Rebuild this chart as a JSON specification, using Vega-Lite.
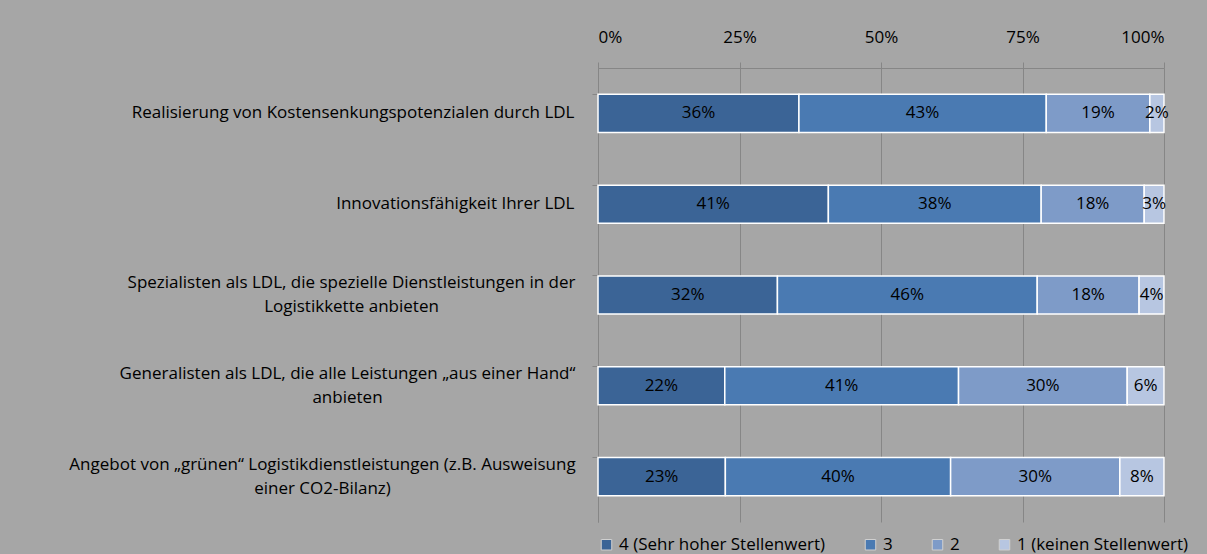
{
  "$schema": "https://vega.github.io/schema/vega-lite/v6.json",
  "width": 566,
  "height": 454,
  "autosize": {"type": "none"},
  "padding": {"left": 598, "top": 68, "right": 43, "bottom": 32},
  "background": "#A6A6A6",
  "config": {
    "view": {"stroke": null},
    "font": "Open Sans",
    "axis": {"labelFont": "Open Sans", "labelColor": "#000000", "labelFontSize": 17}
  },
  "data": {
    "values": [
      {"item": "Realisierung von Kostensenkungspotenzialen  durch LDL", "cat": "4 (Sehr hoher Stellenwert)", "k": 1, "value": 35.5, "label": "36%"},
      {"item": "Realisierung von Kostensenkungspotenzialen  durch LDL", "cat": "3", "k": 2, "value": 43.7, "label": "43%"},
      {"item": "Realisierung von Kostensenkungspotenzialen  durch LDL", "cat": "2", "k": 3, "value": 18.3, "label": "19%"},
      {"item": "Realisierung von Kostensenkungspotenzialen  durch LDL", "cat": "1 (keinen Stellenwert)", "k": 4, "value": 2.5, "label": "2%"},
      {"item": "Innovationsfähigkeit  Ihrer LDL", "cat": "4 (Sehr hoher Stellenwert)", "k": 1, "value": 40.7, "label": "41%"},
      {"item": "Innovationsfähigkeit  Ihrer LDL", "cat": "3", "k": 2, "value": 37.6, "label": "38%"},
      {"item": "Innovationsfähigkeit  Ihrer LDL", "cat": "2", "k": 3, "value": 18.2, "label": "18%"},
      {"item": "Innovationsfähigkeit  Ihrer LDL", "cat": "1 (keinen Stellenwert)", "k": 4, "value": 3.5, "label": "3%"},
      {"item": "Spezialisten als LDL, die spezielle Dienstleistungen in der|Logistikkette anbieten", "cat": "4 (Sehr hoher Stellenwert)", "k": 1, "value": 31.7, "label": "32%"},
      {"item": "Spezialisten als LDL, die spezielle Dienstleistungen in der|Logistikkette anbieten", "cat": "3", "k": 2, "value": 45.9, "label": "46%"},
      {"item": "Spezialisten als LDL, die spezielle Dienstleistungen in der|Logistikkette anbieten", "cat": "2", "k": 3, "value": 18.0, "label": "18%"},
      {"item": "Spezialisten als LDL, die spezielle Dienstleistungen in der|Logistikkette anbieten", "cat": "1 (keinen Stellenwert)", "k": 4, "value": 4.4, "label": "4%"},
      {"item": "Generalisten als LDL, die alle Leistungen „aus einer Hand“|anbieten", "cat": "4 (Sehr hoher Stellenwert)", "k": 1, "value": 22.4, "label": "22%"},
      {"item": "Generalisten als LDL, die alle Leistungen „aus einer Hand“|anbieten", "cat": "3", "k": 2, "value": 41.3, "label": "41%"},
      {"item": "Generalisten als LDL, die alle Leistungen „aus einer Hand“|anbieten", "cat": "2", "k": 3, "value": 29.8, "label": "30%"},
      {"item": "Generalisten als LDL, die alle Leistungen „aus einer Hand“|anbieten", "cat": "1 (keinen Stellenwert)", "k": 4, "value": 6.5, "label": "6%"},
      {"item": "Angebot von „grünen“ Logistikdienstleistungen (z.B.  Ausweisung|einer CO2-Bilanz)", "cat": "4 (Sehr hoher Stellenwert)", "k": 1, "value": 22.5, "label": "23%"},
      {"item": "Angebot von „grünen“ Logistikdienstleistungen (z.B.  Ausweisung|einer CO2-Bilanz)", "cat": "3", "k": 2, "value": 39.8, "label": "40%"},
      {"item": "Angebot von „grünen“ Logistikdienstleistungen (z.B.  Ausweisung|einer CO2-Bilanz)", "cat": "2", "k": 3, "value": 29.9, "label": "30%"},
      {"item": "Angebot von „grünen“ Logistikdienstleistungen (z.B.  Ausweisung|einer CO2-Bilanz)", "cat": "1 (keinen Stellenwert)", "k": 4, "value": 7.8, "label": "8%"}
    ]
  },
  "transform": [
    {"stack": "value", "groupby": ["item"], "sort": [{"field": "k", "order": "ascending"}], "offset": "normalize", "as": ["s0", "s1"]},
    {"calculate": "(datum.s0 + datum.s1) / 2", "as": "mid"}
  ],
  "encoding": {
    "y": {
      "field": "item",
      "type": "nominal",
      "sort": null,
      "title": null,
      "scale": {"paddingInner": 0.58, "paddingOuter": 0.29},
      "axis": {
        "labelExpr": "split(datum.label, '|')",
        "labelLimit": 700,
        "labelPadding": {
          "condition": [
            {"test": "indexof(datum.label, 'Spezialisten') >= 0", "value": 241},
            {"test": "indexof(datum.label, 'Generalisten') >= 0", "value": 245},
            {"test": "indexof(datum.label, 'Angebot') >= 0", "value": 270}
          ],
          "value": 18
        },
        "labelAlign": {
          "condition": {"test": "indexof(datum.label, '|') >= 0", "value": "center"},
          "value": "right"
        },
        "labelOffset": {
          "condition": {"test": "indexof(datum.label, '|') >= 0", "value": -12},
          "value": 0
        },
        "labelLineHeight": 24,
        "domainColor": "#868686",
        "tickColor": "#868686",
        "tickSize": 6,
        "bandPosition": 0,
        "grid": false
      }
    }
  },
  "layer": [
    {
      "mark": {"type": "bar", "stroke": "#FFFFFF", "strokeWidth": 1.5},
      "encoding": {
        "x": {
          "field": "s0",
          "type": "quantitative",
          "title": null,
          "scale": {"domain": [0, 1], "nice": false},
          "axis": {
            "orient": "top",
            "format": "%",
            "values": [0, 0.25, 0.5, 0.75, 1],
            "grid": true,
            "gridColor": "#868686",
            "gridWidth": 1,
            "domainColor": "#868686",
            "tickColor": "#868686",
            "tickSize": 6,
            "labelPadding": 16,
            "labelFontSize": 17
          }
        },
        "x2": {"field": "s1"},
        "color": {
          "field": "cat",
          "type": "nominal",
          "scale": {
            "domain": ["4 (Sehr hoher Stellenwert)", "3", "2", "1 (keinen Stellenwert)"],
            "range": ["#3B6496", "#4A7AB2", "#7E9BC8", "#B7C6E1"]
          },
          "legend": {
            "title": null,
            "orient": "bottom",
            "direction": "horizontal",
            "symbolType": "square",
            "symbolSize": 110,
            "symbolStrokeColor": "#D0D0D0",
            "symbolStrokeWidth": 1,
            "labelFont": "Open Sans",
            "labelFontSize": 17,
            "labelColor": "#000000",
            "labelLimit": 400,
            "labelOffset": 4,
            "columnPadding": 36,
            "offset": 14
          }
        }
      }
    },
    {
      "mark": {"type": "text", "fontSize": 17, "color": "#000000", "font": "Open Sans"},
      "encoding": {
        "x": {"field": "mid", "type": "quantitative"},
        "text": {"field": "label"}
      }
    }
  ]
}
